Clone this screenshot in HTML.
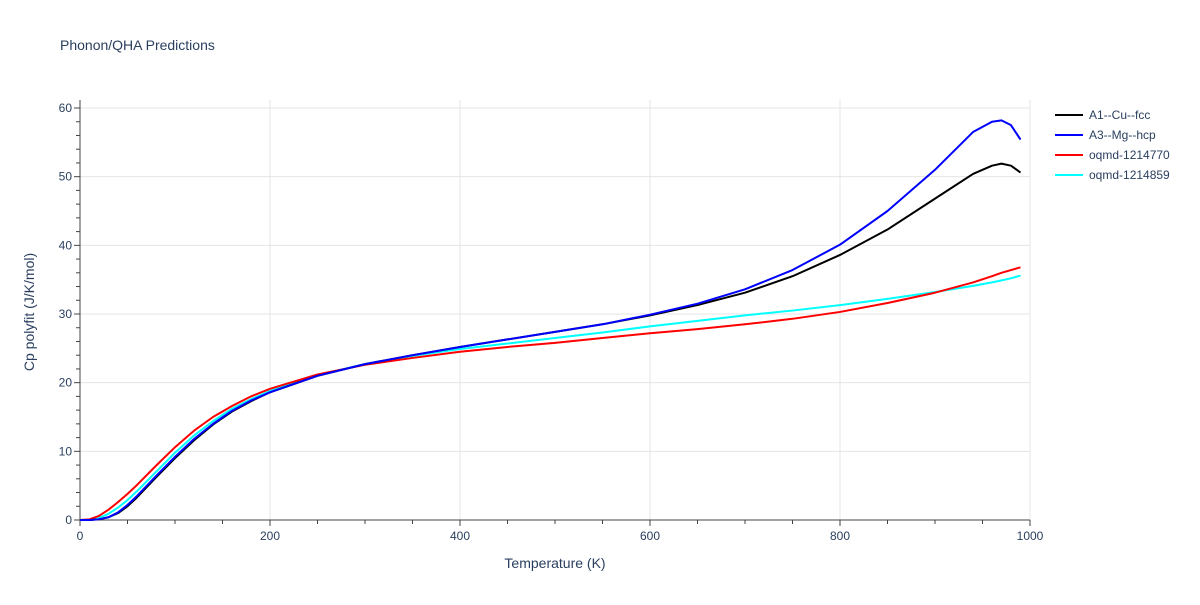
<!DOCTYPE html>
<html><head><meta charset="utf-8"><style>
body{margin:0;background:#fff;font-family:"Liberation Sans",sans-serif}
svg text{font-family:"Liberation Sans",sans-serif;fill:#2a3f5f}
</style></head><body>
<svg id="chart" width="1200" height="600">
<text x="60" y="50" font-size="14">Phonon/QHA Predictions</text>
<g id="grid"></g><g id="axes"></g><g id="series"></g><g id="legend"></g>
<text x="555" y="568" font-size="14" text-anchor="middle">Temperature (K)</text>
<text x="34" y="312" font-size="14" text-anchor="middle" transform="rotate(-90 34 312)">Cp polyfit (J/K/mol)</text>
</svg>
<script>
const temps=[0,10,20,30,40,50,60,80,100,120,140,160,180,200,250,300,350,400,450,500,550,600,650,700,750,800,850,900,940,960,970,980,990];
const cu=[0,0,0.1,0.4,1.0,2.0,3.3,6.2,9.0,11.6,13.9,15.8,17.3,18.6,21.0,22.7,24.0,25.2,26.3,27.4,28.5,29.8,31.3,33.1,35.5,38.6,42.3,46.8,50.4,51.6,51.9,51.6,50.6];
const mg=[0,0,0.1,0.4,1.1,2.2,3.5,6.4,9.2,11.8,14.0,15.9,17.4,18.6,21.0,22.7,24.0,25.2,26.3,27.4,28.5,29.9,31.5,33.6,36.4,40.1,45.0,51.0,56.5,58.0,58.2,57.5,55.4];
const red=[0,0.1,0.6,1.5,2.6,3.8,5.1,7.9,10.6,13.0,15.0,16.6,18.0,19.1,21.2,22.6,23.6,24.5,25.2,25.8,26.5,27.2,27.8,28.5,29.3,30.3,31.6,33.1,34.6,35.5,36.0,36.4,36.8];
const cyan=[0,0,0.3,0.9,1.8,2.9,4.2,7.0,9.8,12.3,14.4,16.2,17.6,18.8,21.1,22.7,23.9,24.9,25.7,26.5,27.3,28.2,29.0,29.8,30.5,31.3,32.2,33.2,34.1,34.6,34.9,35.2,35.6];
const seriesNames=["A1--Cu--fcc","A3--Mg--hcp","oqmd-1214770","oqmd-1214859"];
const xTicks=[0,200,400,600,800,1000];
const yTicks=[0,10,20,30,40,50,60];
const NS="http://www.w3.org/2000/svg";
const X=v=>80+v*0.95, Y=v=>520-v*6.8667;
function mk(tag,attrs,parent){const e=document.createElementNS(NS,tag);for(const k in attrs)e.setAttribute(k,attrs[k]);document.getElementById(parent).appendChild(e);return e;}
xTicks.forEach(t=>{
 if(t>0){const g=mk('line',{x1:X(t),x2:X(t),y1:100,y2:520,stroke:'#e5e5e5'},'grid');
 
 }
 const l=mk('text',{x:X(t),y:540,'font-size':12,'text-anchor':'middle'},'axes');l.textContent=t;
 
 
});
for(let t=0;t<=1000;t+=50){mk('line',{x1:X(t),x2:X(t),y1:520,y2:t%200==0?526:524,stroke:'#444'},'axes');}
yTicks.forEach(t=>{
 if(t>0){const g=mk('line',{x1:80,x2:1030,y1:Y(t),y2:Y(t),stroke:'#e5e5e5'},'grid');
 
 }
 const l=mk('text',{x:72,y:Y(t)+4,'font-size':12,'text-anchor':'end'},'axes');l.textContent=t;
 
 
});
for(let t=0;t<=60;t+=2){mk('line',{x1:t%10==0?74:76,x2:80,y1:Y(t),y2:Y(t),stroke:'#444'},'axes');}
mk('line',{x1:80,x2:1030,y1:520,y2:520,stroke:'#444'},'axes');
mk('line',{x1:80,x2:80,y1:100,y2:520,stroke:'#444'},'axes');
const all=[cu,mg,red,cyan], cols=['#000000','#0000ff','#ff0000','#00ffff'];
[3,2,0,1].forEach(i=>{
 const p=mk('polyline',{points:temps.map((t,j)=>X(t)+','+Y(all[i][j])).join(' '),fill:'none',stroke:cols[i],'stroke-width':2,'stroke-linejoin':'round'},'series');
 
 
});
seriesNames.forEach((n,i)=>{
 const y=115+i*20;
 const l=mk('line',{x1:1055,x2:1083,y1:y,y2:y,stroke:cols[i],'stroke-width':2},'legend');
 
 
 const t=mk('text',{x:1089,y:y+4,'font-size':12},'legend');t.textContent=n;
 
 
});
</script>
</body></html>
